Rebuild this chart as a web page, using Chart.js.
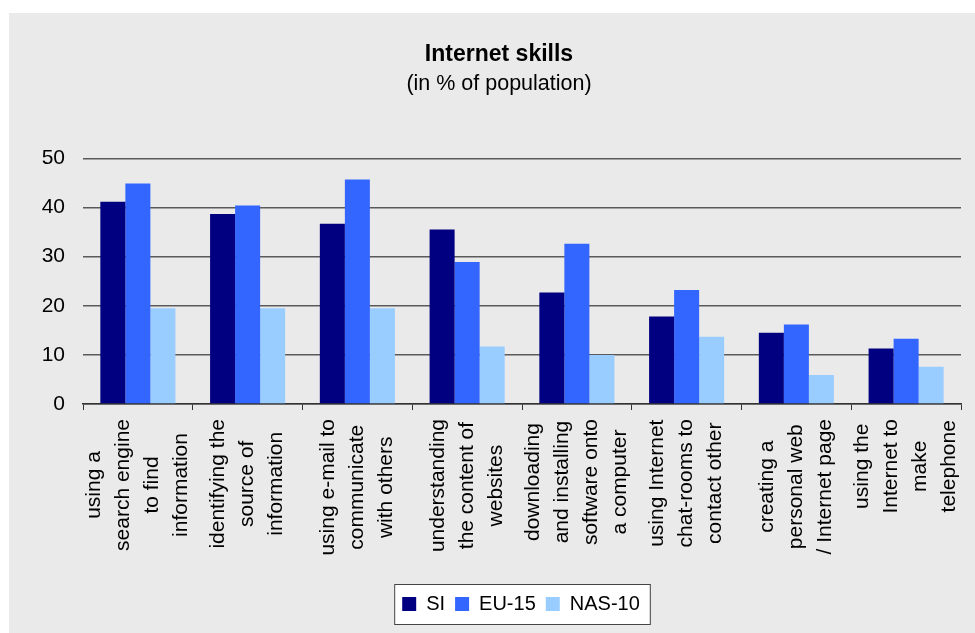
<!DOCTYPE html>
<html>
<head>
<meta charset="utf-8">
<title>Internet skills</title>
<script src="https://cdn.jsdelivr.net/npm/chart.js@4.4.1/dist/chart.umd.min.js"></script>
<style>
  body { margin: 0; background: #fff; }
  canvas { display: block; }
</style>
</head>
<body>
<canvas id="skills-chart" width="975" height="633"></canvas>
<script>
// category labels, wrapped the same way as in the picture
var categories = [
  ["using a", "search engine", "to find", "information"],
  ["identifying the", "source of", "information"],
  ["using e-mail to", "communicate", "with others"],
  ["understanding", "the content of", "websites"],
  ["downloading", "and installing", "software onto", "a computer"],
  ["using Internet", "chat-rooms to", "contact other"],
  ["creating a", "personal web", "/ Internet page"],
  ["using the", "Internet to", "make", "telephone"]
];

// series values (% of population)
var siValues    = [41.2, 38.7, 36.7, 35.5, 22.7, 17.8, 14.5, 11.3];
var eu15Values  = [44.9, 40.4, 45.7, 28.9, 32.6, 23.2, 16.2, 13.3];
var nas10Values = [19.5, 19.5, 19.5, 11.7, 10.0, 13.7,  5.9,  7.6];

var yMin = 0, yMax = 50, yStep = 10;

var FONT = "'Liberation Sans', Arial, Helvetica, sans-serif";
Chart.defaults.font.family = FONT;
Chart.defaults.font.size = 21;
Chart.defaults.color = "#000";

// grey panel and the white legend frame
var backgroundPlugin = {
    id: "panel",
    afterLayout: function(chart) {
        // legend sits a little right of centre in the original
        chart.legend.left += 22;
        chart.legend.right += 22;
    },
    beforeDraw: function(chart) {
        var ctx = chart.ctx;
        ctx.save();
        ctx.fillStyle = "#fff";
        ctx.fillRect(0, 0, chart.width, chart.height);
        ctx.fillStyle = "#eaeaea";
        ctx.fillRect(9, 13, chart.width - 9, chart.height - 13);

        var boxes = chart.legend.legendHitBoxes;
        if (boxes && boxes.length) {
            var first = boxes[0], last = boxes[boxes.length - 1];
            var x0 = first.left - 8, x1 = last.left + last.width + 10;
            var y0 = chart.legend.top, y1 = chart.legend.bottom;
            ctx.fillStyle = "#fff";
            ctx.fillRect(x0, y0, x1 - x0, y1 - y0);
            ctx.strokeStyle = "#444";
            ctx.lineWidth = 1;
            ctx.strokeRect(x0 + 0.5, y0 + 0.5, x1 - x0, y1 - y0);
        }
        ctx.restore();
    }
};

// vertical category labels, lines centred on each other
var labelPlugin = {
    id: "vlabels",
    afterDraw: function(chart) {
        var ctx = chart.ctx;
        var xs = chart.scales.x;
        var lineH = 29;
        ctx.save();
        ctx.font = "21px " + FONT;
        ctx.fillStyle = "#000";
        ctx.textAlign = "center";
        ctx.textBaseline = "middle";
        categories.forEach(function(lines, i) {
            var maxW = 0;
            lines.forEach(function(l) { maxW = Math.max(maxW, ctx.measureText(l).width); });
            var cx = xs.getPixelForValue(i);
            var top = xs.top + 15;
            ctx.save();
            ctx.translate(cx, top + maxW / 2);
            ctx.rotate(-Math.PI / 2);
            lines.forEach(function(l, j) {
                ctx.fillText(l, 0, (j - (lines.length - 1) / 2) * lineH);
            });
            ctx.restore();
        });
        ctx.restore();
    }
};

var ctx = document.getElementById("skills-chart");

var chart = new Chart(ctx, {
    type: "bar",
    data: {
        labels: categories,
        datasets: [
            { label: "SI", data: siValues, backgroundColor: "#000080" },
            { label: "EU-15", data: eu15Values, backgroundColor: "#3366ff" },
            { label: "NAS-10", data: nas10Values, backgroundColor: "#99ccff" }
        ]
    },
    options: {
        responsive: false,
        animation: false,
        events: [],
        layout: { padding: { top: 41, left: 37, right: 14, bottom: 9 } },
        datasets: { bar: { categoryPercentage: 0.684, barPercentage: 1 } },
        plugins: {
            title: {
                display: true,
                text: "Internet skills",
                font: { size: 23, weight: "bold" },
                color: "#000",
                padding: { top: 0, bottom: 3 }
            },
            subtitle: {
                display: true,
                text: "(in % of population)",
                font: { size: 21.5 },
                color: "#000",
                padding: { top: 0, bottom: 61 }
            },
            legend: {
                position: "bottom",
                labels: { boxWidth: 14, boxHeight: 14, padding: 10, font: { size: 20 }, color: "#000" }
            },
            tooltip: { enabled: false }
        },
        scales: {
            x: {
                grid: { display: true, drawOnChartArea: false, drawTicks: true, tickLength: 6, color: "#333", offset: true },
                border: { display: true, color: "#333", width: 1.5 },
                ticks: { display: false },
                afterFit: function(s) { s.height = 180; s.paddingLeft = 0; s.paddingRight = 0; }
            },
            y: {
                min: yMin,
                max: yMax,
                ticks: { stepSize: yStep, padding: 18, font: { size: 21 }, color: "#000" },
                grid: { color: "#5a5a5a", lineWidth: 1.5, drawTicks: false },
                border: { display: false },
                afterFit: function(s) { s.width = 46; }
            }
        }
    },
    plugins: [backgroundPlugin, labelPlugin]
});
</script>
</body>
</html>
